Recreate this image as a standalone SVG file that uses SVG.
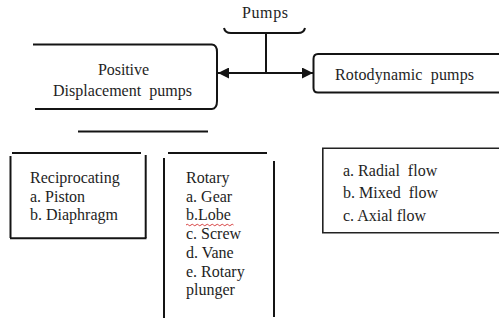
<svg xmlns="http://www.w3.org/2000/svg" width="499" height="321" viewBox="0 0 499 321">
  <defs>
    <style>
      .ln { fill: none; stroke: #141414; stroke-width: 2; stroke-linecap: butt; }
      .thin { fill: none; stroke: #222; stroke-width: 1.6; }
      .tx { font-family: 'Liberation Serif', 'Times New Roman', serif; font-size: 16px; fill: #1e1e1e; }
      .spell { fill: none; stroke: #d23030; stroke-width: 0.9; }
    </style>
    <marker id="head" viewBox="0 0 11 11" refX="11" refY="5.5" markerWidth="11" markerHeight="11" markerUnits="userSpaceOnUse" orient="auto">
      <path d="M0,0 L11,5.5 L0,11 Z" fill="#141414"/>
    </marker>
  </defs>

  <rect width="499" height="321" fill="#ffffff"/>

  <!-- root node: Pumps with its brace -->
  <g id="pumps">
    <text class="tx" x="242" y="18" textLength="46" lengthAdjust="spacing">Pumps</text>
    <path class="ln" d="M224,28 Q225,33 231,33 L298,33 Q304,33 305,28" stroke-width="1.6"/>
  </g>

  <!-- connectors: stem from the brace and the double-headed arrow -->
  <g id="connectors">
    <line class="ln" x1="266" y1="33" x2="266" y2="73"/>
    <line class="ln" x1="266" y1="73" x2="218" y2="73" marker-end="url(#head)"/>
    <line class="ln" x1="266" y1="73" x2="313" y2="73" marker-end="url(#head)"/>
    <line class="ln" x1="78" y1="131.5" x2="208" y2="131.5"/>
  </g>

  <g id="positive-displacement">
    <line class="ln" x1="33" y1="44.5" x2="212" y2="44.5"/>
    <line class="ln" x1="35" y1="109" x2="212" y2="109"/>
    <path class="ln" d="M212,44.5 Q217,45 217,52 L217,101 Q217,108.5 212,109"/>
    <text class="tx" x="98" y="75" textLength="51" lengthAdjust="spacing">Positive</text>
    <text class="tx" x="53" y="96" textLength="139" lengthAdjust="spacing" xml:space="preserve">Displacement  pumps</text>
  </g>

  <g id="rotodynamic">
    <path class="ln" d="M499,54 L318,54 Q313.5,54 313.5,59 L313.5,88 Q313.5,92.5 318,92.5 L499,92.5"/>
    <text class="tx" x="335" y="80" textLength="139" lengthAdjust="spacing" xml:space="preserve">Rotodynamic  pumps</text>
  </g>

  <g id="reciprocating">
    <line class="ln" x1="12" y1="153" x2="141" y2="153"/>
    <line class="ln" x1="10.5" y1="156" x2="10.5" y2="238"/>
    <line class="ln" x1="10" y1="238.3" x2="146.5" y2="238.3"/>
    <line class="ln" x1="145.7" y1="155" x2="145.7" y2="238"/>
    <text class="tx" x="30" y="183">Reciprocating</text>
    <text class="tx" x="30" y="201.5">a. Piston</text>
    <text class="tx" x="30" y="220">b. Diaphragm</text>
  </g>

  <g id="rotary">
    <line class="ln" x1="168" y1="153" x2="267" y2="153"/>
    <line class="ln" x1="164" y1="158" x2="164" y2="318"/>
    <line class="ln" x1="274" y1="161" x2="274" y2="317"/>
    <text class="tx" x="186" y="183">Rotary</text>
    <text class="tx" x="186" y="201.7">a. Gear</text>
    <text class="tx" x="186" y="220.4">b.Lobe</text>
    <path class="spell" d="M186,225 q1.25,-1.5 2.5,0 t2.5,0 t2.5,0 t2.5,0 t2.5,0 t2.5,0 t2.5,0 t2.5,0 t2.5,0 t2.5,0 t2.5,0 t2.5,0 t2.5,0 t2.5,0 t2.5,0 t2.5,0 t2.5,0 t2.5,0 t2.5,0"/>
    <text class="tx" x="186" y="239.1">c. Screw</text>
    <text class="tx" x="186" y="257.8">d. Vane</text>
    <text class="tx" x="186" y="276.5">e. Rotary</text>
    <text class="tx" x="186" y="295.2">plunger</text>
  </g>

  <g id="rotodynamic-types">
    <path class="thin" d="M500,148.3 L322.8,148.3 L322.8,232.7 L500,232.7"/>
    <text class="tx" x="343" y="176" xml:space="preserve">a. Radial  flow</text>
    <text class="tx" x="343" y="198" xml:space="preserve">b. Mixed  flow</text>
    <text class="tx" x="343" y="220.5">c. Axial flow</text>
  </g>
</svg>
